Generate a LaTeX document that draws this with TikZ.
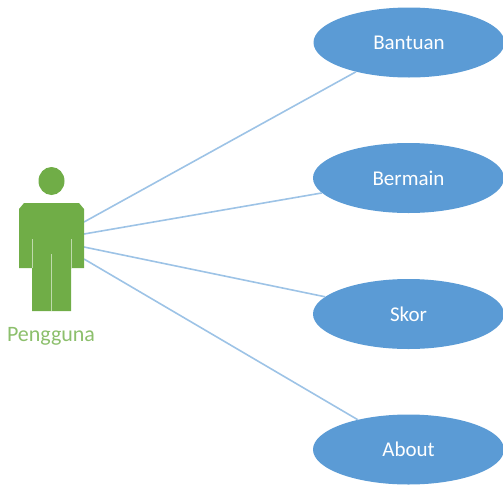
\documentclass[tikz,border=0pt]{standalone}
\usepackage{fontspec}
\setmainfont{Carlito}
\usetikzlibrary{shapes.geometric}
\definecolor{usecaseblue}{HTML}{5B9BD5}
\definecolor{linkblue}{HTML}{9DC3E6}
\definecolor{actorgreen}{HTML}{70AD47}
\definecolor{labelgreen}{HTML}{8CBF6C}
\tikzset{
  usecase/.style={ellipse,fill=usecaseblue,text=white,minimum width=191pt,minimum height=70pt,inner sep=0pt,font=\fontsize{21}{24}\selectfont},
  link/.style={linkblue,line width=1.6pt},
  actor/.style={fill=actorgreen,draw=none},
  seam/.style={white!55!actorgreen,line width=0.9pt}
}
\begin{document}
\begin{tikzpicture}[x=1pt,y=-1pt]
\useasboundingbox (0,0) rectangle (503,485);
\node [usecase] (bantuan) at (409,42.5) {Bantuan};
\node [usecase] (bermain) at (408.5,178) {Bermain};
\node [usecase] (skor) at (408.5,314) {Skor};
\node [usecase] (about) at (408.5,449.5) {About};
\coordinate (a1) at (84,222);
\coordinate (a2) at (84,234);
\coordinate (a3) at (84,247);
\coordinate (a4) at (84,259);
\draw [link] (a1) -- (bantuan);
\draw [link] (a2) -- (bermain);
\draw [link] (a3) -- (skor);
\draw [link] (a4) -- (about);
\node [actor,ellipse,minimum width=26pt,minimum height=28pt,inner sep=0pt] (head) at (51.5,181) {};
\fill [actorgreen] (24,203) -- (79,203) -- (84,209) -- (84,268) -- (71,268) -- (71,311) -- (32,311) -- (32,268) -- (19,268) -- (19,209) -- cycle;
\draw [seam] (32,239) -- (32,268);
\draw [seam] (71,239) -- (71,268);
\draw [seam] (51.5,254) -- (51.5,311);
\node [text=labelgreen,font=\fontsize{22}{26}\selectfont] (pengguna) at (51,336) {Pengguna};
\end{tikzpicture}
\end{document}
